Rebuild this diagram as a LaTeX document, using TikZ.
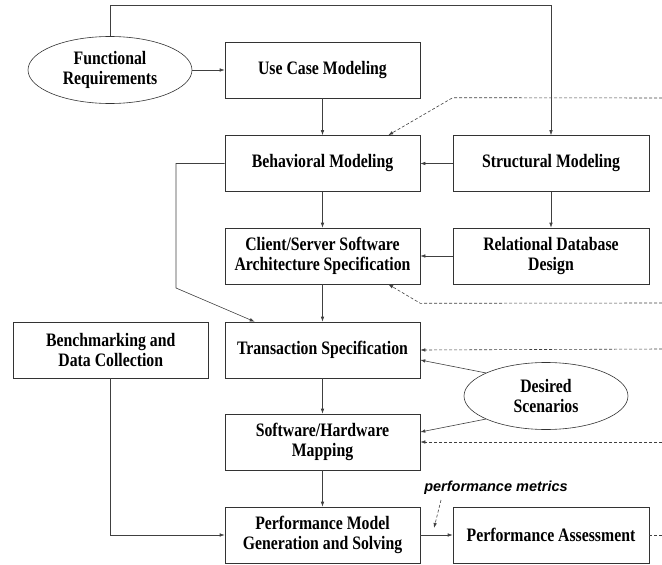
\documentclass[tikz,border=0pt]{standalone}
\usepackage{fontspec}
\setmainfont{Liberation Serif}[FakeStretch=0.83]
\newfontfamily\metricfont{Liberation Sans}
\usetikzlibrary{shapes.geometric,arrows.meta,calc}
\begin{document}
\begin{tikzpicture}[x=1pt,y=-1pt,
  font=\bfseries\fontsize{19}{20}\selectfont,
  box/.style={draw=black!80,line width=0.6pt,minimum width=195pt,minimum height=56pt,align=center,inner sep=0pt},
  oval/.style={draw=black!80,line width=0.6pt,ellipse,minimum width=164pt,minimum height=67pt,align=center,inner sep=0pt},
  arr/.style={draw=black!75,line width=0.6pt,-{Latex[length=5pt,width=3.5pt]}},
  plain/.style={draw=black!75,line width=0.6pt},
  darr/.style={draw=black!75,line width=0.6pt,dashed,dash pattern=on 3pt off 2pt,-{Latex[length=5pt,width=3.5pt]}},
  dline/.style={draw=black!75,line width=0.6pt,dash pattern=on 3pt off 2pt}]
\useasboundingbox (0,0) rectangle (662,565);
\node[oval] (fr) at (110,70) {Functional\\Requirements};
\node[box] (uc) at (322.5,70) {Use Case Modeling};
\node[box] (bm) at (322.5,163.5) {Behavioral Modeling};
\node[box,minimum width=196pt] (sm) at (551,163.5) {Structural Modeling};
\node[box] (cs) at (322.5,256) {Client/Server Software\\Architecture Specification};
\node[box,minimum width=196pt] (rd) at (551,256) {Relational Database\\Design};
\node[box,minimum width=194.5pt] (bd) at (110.75,350) {Benchmarking and\\Data Collection};
\node[box] (ts) at (322.5,350) {Transaction Specification};
\node[oval] (ds) at (546,396) {Desired\\Scenarios};
\node[box] (sh) at (322.5,442) {Software/Hardware\\Mapping};
\node[box] (pm) at (322.5,535) {Performance Model\\Generation and Solving};
\node[box,minimum width=196pt] (pa) at (551,535) {Performance Assessment};
\node[font=\metricfont\bfseries\itshape\fontsize{14.5}{16}\selectfont] (pmt) at (496,488) {performance metrics};
\coordinate (e1) at (662,98);
\coordinate (e2) at (662,303);
\coordinate (e3) at (662,349);
\coordinate (e4) at (662,442);
\coordinate (e5) at (662,535);
\coordinate (k1) at (176,163.5);
\coordinate (k2) at (176,288);
\coordinate (m1) at (441,500);
\coordinate (m2) at (434,528);
% solid connectors
\draw[arr] (fr.north) -- (110,5) -| (sm.north);
\draw[arr] (fr.east) -- (uc.west);
\draw[arr] (uc.south) -- (bm.north);
\draw[arr] (sm.west) -- (bm.east);
\draw[arr] (bm.south) -- (cs.north);
\draw[arr] (sm.south) -- (rd.north);
\draw[arr] (rd.west) -- (cs.east);
\draw[arr] (cs.south) -- (ts.north);
\draw[arr] (bm.west) -- (k1) -- (k2) -- ($(ts.north west)+(30,0)$);
\draw[arr] (ds.159) -- ($(ts.east)+(0,10)$);
\draw[arr] (ds.201) -- ($(sh.east)+(0,-10)$);
\draw[arr] (ts.south) -- (sh.north);
\draw[arr] (sh.south) -- (pm.north);
\draw[arr] (bd.south) |- (pm.west);
\draw[arr] (pm.east) -- (pa.west);
% dashed connectors
\draw[darr] (e1) -- ($(sm.north west)+(0,-37.5)$) -- ($(bm.north east)+(-32,0)$);
\draw[darr] (e2) -- ($(cs.south east)+(0,19)$) -- ($(cs.south east)+(-32,0)$);
\draw[darr] (e3) -- (ts.east);
\draw[darr] (e4) -- (sh.east);
\draw[dline] (pa.east) -- (e5);
\draw[darr] (m1) -- (m2);
\end{tikzpicture}
\end{document}
